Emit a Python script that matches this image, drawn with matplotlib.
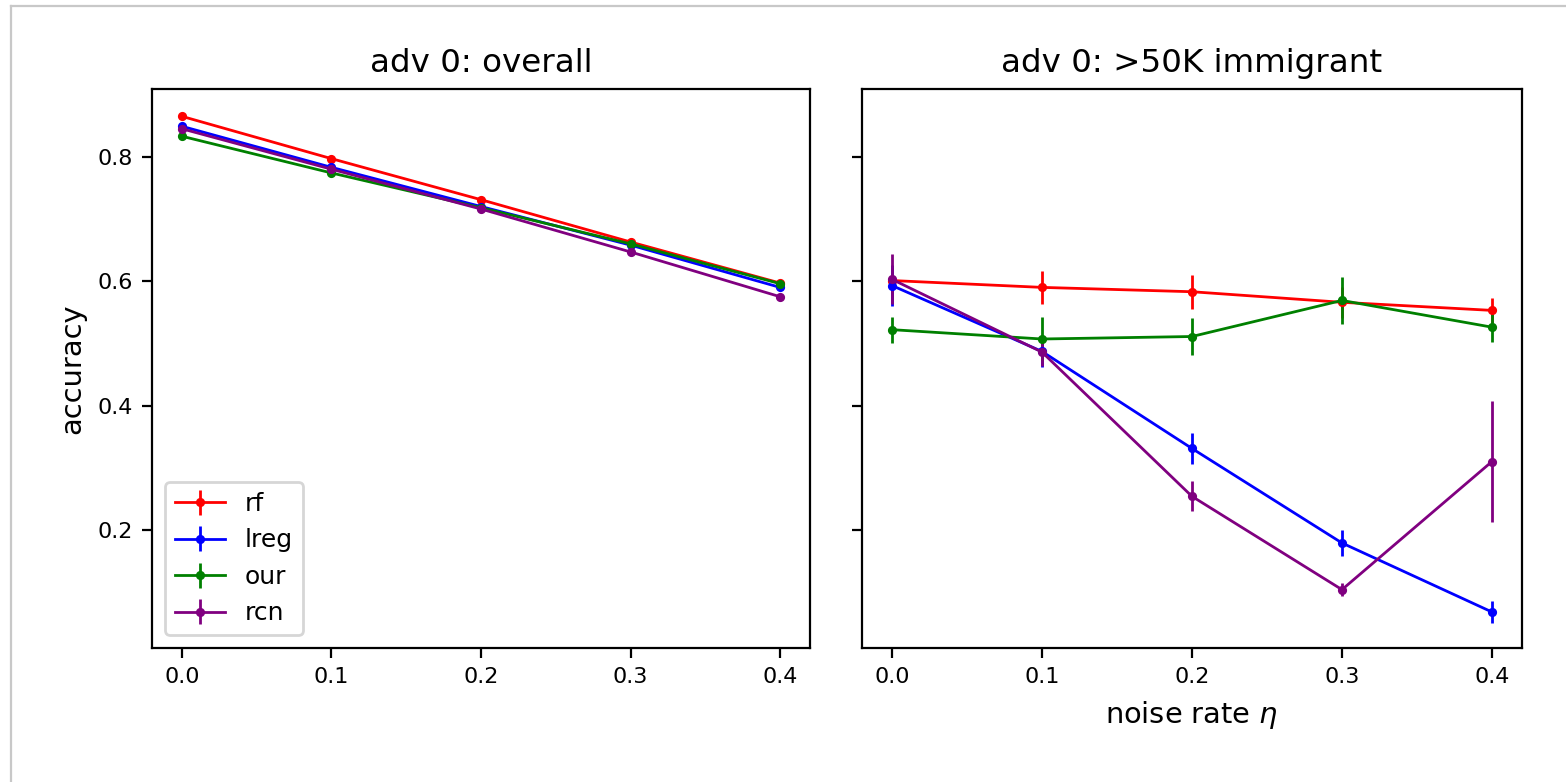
import matplotlib
matplotlib.use('Agg')
import matplotlib.pyplot as plt
from matplotlib.lines import Line2D

noise = [0.0, 0.1, 0.2, 0.3, 0.4]
methods = ['rf', 'lreg', 'our', 'rcn']
colors = ['red', 'blue', 'green', 'purple']

# panel 1: overall accuracy
overall = {
    'rf':   [0.865, 0.797, 0.731, 0.663, 0.597],
    'lreg': [0.849, 0.783, 0.720, 0.658, 0.590],
    'our':  [0.833, 0.774, 0.718, 0.660, 0.596],
    'rcn':  [0.845, 0.780, 0.716, 0.647, 0.575],
}
overall_err = {
    'rf':   [0.002, 0.002, 0.002, 0.002, 0.002],
    'lreg': [0.002, 0.002, 0.002, 0.002, 0.002],
    'our':  [0.002, 0.002, 0.002, 0.002, 0.002],
    'rcn':  [0.002, 0.002, 0.002, 0.002, 0.002],
}

# panel 2: >50K immigrant subgroup
group = {
    'rf':   [0.601, 0.590, 0.583, 0.566, 0.553],
    'lreg': [0.593, 0.487, 0.331, 0.179, 0.068],
    'our':  [0.522, 0.507, 0.511, 0.569, 0.526],
    'rcn':  [0.603, 0.486, 0.254, 0.104, 0.310],
}
group_err = {
    'rf':   [0.020, 0.027, 0.027, 0.025, 0.020],
    'lreg': [0.033, 0.025, 0.025, 0.021, 0.017],
    'our':  [0.021, 0.035, 0.030, 0.038, 0.024],
    'rcn':  [0.040, 0.023, 0.024, 0.011, 0.098],
}

fig = plt.figure(figsize=(7.83, 3.91), dpi=200)
ax1 = fig.add_axes([0.0971, 0.1714, 0.4201, 0.7148])
ax2 = fig.add_axes([0.5504, 0.1714, 0.4215, 0.7148], sharey=ax1)

for ax, vals, errs in [(ax1, overall, overall_err), (ax2, group, group_err)]:
    for m, c in zip(methods, colors):
        ax.errorbar(noise, vals[m], yerr=errs[m], color=c, marker='o',
                    markersize=2.3, linewidth=1.0, elinewidth=1.0, label=m)
    ax.set_xticks(noise)
    ax.tick_params(labelsize=8)

ax1.set_ylim(0.0102, 0.909)
ax1.set_yticks([0.2, 0.4, 0.6, 0.8])
plt.setp(ax2.get_yticklabels(), visible=False)

ax1.set_title('adv 0: overall', fontsize=11.7)
ax2.set_title('adv 0: >50K immigrant', fontsize=11.7)
ax1.set_ylabel('accuracy', fontsize=10.4)
ax2.set_xlabel(r'noise rate $\eta$', fontsize=10.4)
ax1.legend(loc='lower left', fontsize=9)

# light frame from the notebook output cell
fig.add_artist(Line2D([11 / 1566, 11 / 1566], [0, 1 - 6 / 782],
                      transform=fig.transFigure, color='#c8c8c8', linewidth=0.8))
fig.add_artist(Line2D([11 / 1566, 1], [1 - 6 / 782, 1 - 6 / 782],
                      transform=fig.transFigure, color='#c8c8c8', linewidth=0.8))

fig.savefig('out.png', dpi=200)
